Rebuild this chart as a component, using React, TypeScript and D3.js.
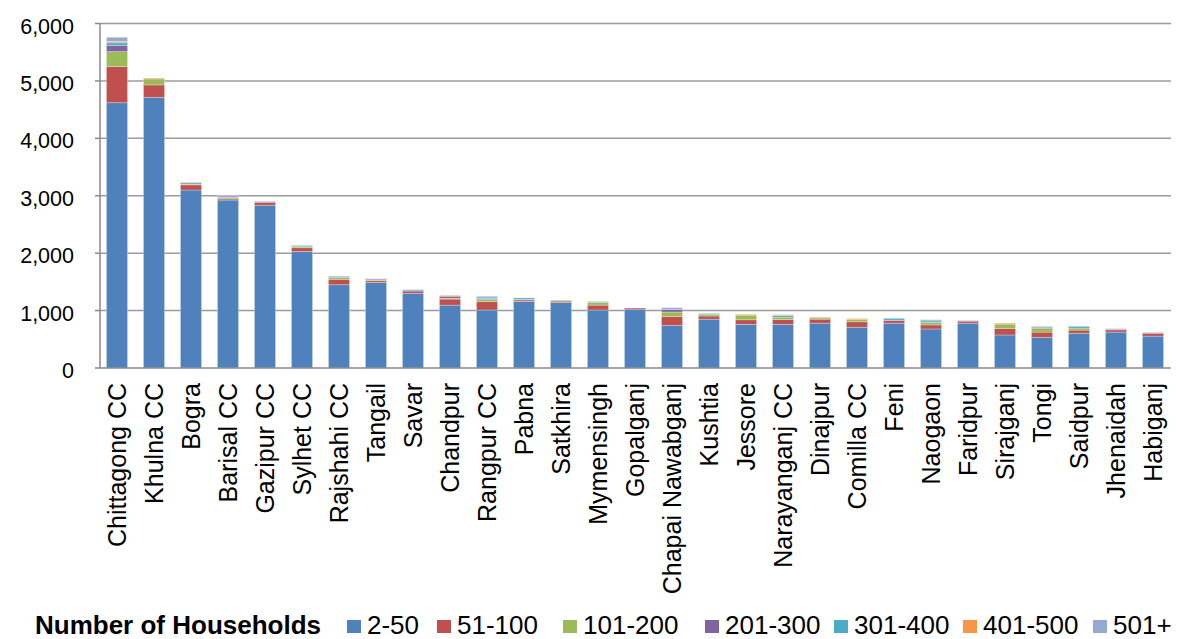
import React from 'react';
import * as d3 from 'd3';

const categories = [
  'Chittagong CC', 'Khulna CC', 'Bogra', 'Barisal CC', 'Gazipur CC', 'Sylhet CC',
  'Rajshahi CC', 'Tangail', 'Savar', 'Chandpur', 'Rangpur CC', 'Pabna', 'Satkhira',
  'Mymensingh', 'Gopalganj', 'Chapai Nawabganj', 'Kushtia', 'Jessore', 'Narayanganj CC',
  'Dinajpur', 'Comilla CC', 'Feni', 'Naogaon', 'Faridpur', 'Sirajganj', 'Tongi',
  'Saidpur', 'Jhenaidah', 'Habiganj',
];

const seriesNames = ['2-50', '51-100', '101-200', '201-300', '301-400', '401-500', '501+'];
const seriesColors = ['#4F81BD', '#C0504D', '#9BBB59', '#8064A2', '#4BACC6', '#F79646', '#95A9D3'];

// values per series, one entry per category (same order as categories)
const hh2to50 = [4620, 4715, 3100, 2925, 2835, 2030, 1450, 1490, 1300, 1095, 1010, 1160, 1140, 1010, 1025, 740, 850, 760, 760, 780, 710, 780, 680, 780, 575, 535, 605, 625, 555];
const hh51to100 = [630, 215, 90, 20, 50, 65, 95, 30, 40, 105, 145, 25, 25, 85, 20, 155, 55, 80, 85, 70, 95, 45, 70, 35, 115, 90, 55, 40, 45];
const hh101to200 = [260, 105, 10, 20, 0, 25, 35, 15, 0, 15, 40, 10, 15, 50, 0, 80, 30, 80, 40, 25, 40, 0, 45, 0, 75, 65, 35, 0, 0];
const hh201to300 = [110, 0, 0, 10, 10, 0, 0, 15, 0, 35, 15, 0, 0, 0, 0, 45, 0, 0, 0, 0, 0, 10, 0, 10, 0, 20, 0, 10, 15];
const hh301to400 = [45, 0, 25, 0, 0, 15, 0, 0, 20, 0, 25, 25, 0, 0, 0, 0, 15, 0, 30, 0, 0, 30, 25, 0, 0, 0, 30, 0, 0];
const hh401to500 = [25, 15, 10, 0, 0, 0, 0, 0, 0, 15, 0, 0, 0, 0, 0, 0, 0, 15, 10, 10, 15, 0, 0, 0, 15, 0, 0, 0, 0];
const hh501plus = [70, 0, 0, 30, 10, 0, 20, 5, 5, 0, 15, 0, 0, 15, 0, 30, 0, 0, 5, 5, 0, 0, 20, 5, 0, 15, 0, 10, 0];

const yTicks = [0, 1000, 2000, 3000, 4000, 5000, 6000];

const seriesValues = [hh2to50, hh51to100, hh101to200, hh201to300, hh301to400, hh401to500, hh501plus];

const W = 1179;
const H = 639;
const FONT = '"Liberation Sans", Arial, sans-serif';

// legend square x positions (layout)
const legendX = [347, 437, 563, 705, 834, 963, 1093];

const App: React.FC = () => {
  const rows = categories.map((c, i) => {
    const r: any = { name: c };
    seriesNames.forEach((s, k) => { r[s] = seriesValues[k][i]; });
    return r;
  });
  const stacked = d3.stack<any>().keys(seriesNames)(rows);

  const x = d3.scaleBand().domain(categories).range([98.5, 1171.5]).paddingInner(0.43).paddingOuter(0.215);
  const y = d3.scaleLinear().domain([0, 6000]).range([368, 23.5]);
  const fmt = d3.format(',');

  return (
    <svg width={W} height={H} style={{ position: 'absolute', left: 0, top: 0, background: '#fff' }} fontFamily={FONT}>
      {yTicks.map((t) => (
        <g key={t}>
          {t > 0 && <line x1={100} x2={1171} y1={y(t)} y2={y(t)} stroke="#9c9c9c" strokeWidth={1.5} />}
          <line x1={95} x2={100} y1={y(t)} y2={y(t)} stroke="#8a8a8a" strokeWidth={1.5} />
          <text x={74} y={y(t) + 10} textAnchor="end" fontSize={21.5} fill="#000">{fmt(t)}</text>
        </g>
      ))}
      {stacked.map((layer, k) => (
        <g key={layer.key} fill={seriesColors[k]}>
          {layer.map((d, i) => {
            const h = y(d[0]) - y(d[1]);
            if (h <= 0) return null;
            return (
              <rect key={i} x={x(categories[i])} y={y(d[1])} width={x.bandwidth()} height={h}
                stroke="#ffffff" strokeOpacity={0.35} strokeWidth={0.8} />
            );
          })}
        </g>
      ))}
      <line x1={100} x2={100} y1={23.5} y2={368} stroke="#8a8a8a" strokeWidth={1.5} />
      <line x1={100} x2={1171} y1={368} y2={368} stroke="#8a8a8a" strokeWidth={1.5} />
      {categories.map((c) => {
        const cx = (x(c) as number) + x.bandwidth() / 2;
        return (
          <text key={c} transform={`translate(${cx + 9},383) rotate(-90)`} textAnchor="end" fontSize={25} fill="#000">{c}</text>
        );
      })}
      <text x={35} y={634} fontSize={26} fontWeight="bold" fill="#000">Number of Households</text>
      {seriesNames.map((s, k) => (
        <g key={s}>
          <rect x={legendX[k]} y={620} width={14} height={13} fill={seriesColors[k]} />
          <text x={legendX[k] + 20} y={634} fontSize={26} fill="#000">{s}</text>
        </g>
      ))}
    </svg>
  );
};

export default App;
